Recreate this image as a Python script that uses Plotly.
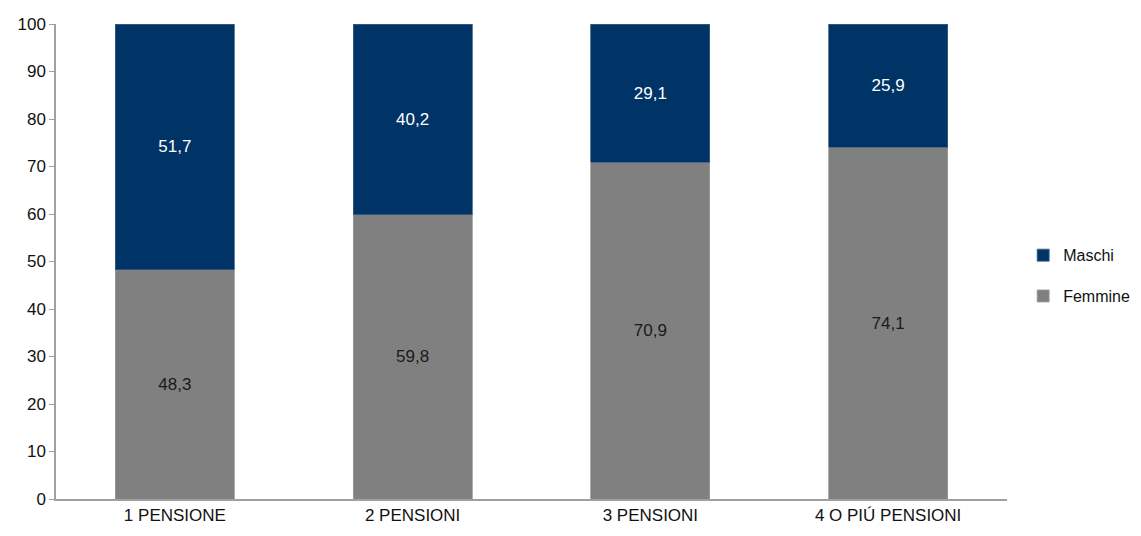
import plotly.graph_objects as go

categories = ["1 PENSIONE", "2 PENSIONI", "3 PENSIONI", "4 O PIÚ PENSIONI"]
femmine = [48.3, 59.8, 70.9, 74.1]
maschi = [51.7, 40.2, 29.1, 25.9]
y_ticks = [0, 10, 20, 30, 40, 50, 60, 70, 80, 90, 100]

FONT = "Liberation Sans Narrow, Arial Narrow, Arial, sans-serif"

def fmt(v):
    return f"{v:.1f}".replace(".", ",")

fig = go.Figure()
fig.add_trace(go.Bar(
    name="Femmine", x=categories, y=femmine, legendgroup="f", legendrank=2,
    marker=dict(color="#808080", line=dict(color="#9a9a9a", width=0.8)),
    text=[fmt(v) for v in femmine], textposition="inside", insidetextanchor="middle",
    textfont=dict(color="#1a1a1a", size=17, family=FONT),
    width=0.5,
))
fig.add_trace(go.Bar(
    name="Maschi", x=categories, y=maschi, legendgroup="m", legendrank=1,
    marker=dict(color="#003366", line=dict(color="#3a5f88", width=0.8)),
    text=[fmt(v) for v in maschi], textposition="inside", insidetextanchor="middle",
    textfont=dict(color="#ffffff", size=17, family=FONT),
    width=0.5,
))

fig.update_layout(
    barmode="stack",
    width=1141, height=536,
    margin=dict(l=56, r=134, t=24, b=37, autoexpand=False),
    paper_bgcolor="white", plot_bgcolor="white",
    font=dict(family=FONT, size=17, color="#111111"),
    showlegend=True,
    legend=dict(
        traceorder="grouped", x=1.017, y=0.47, xanchor="left", yanchor="middle",
        font=dict(size=16, family=FONT), tracegroupgap=17, itemwidth=30,
    ),
)
fig.update_xaxes(
    range=[-0.5, 3.5], showline=True, linecolor="#a0a0a0", linewidth=1.5,
    ticks="", showgrid=False, tickfont=dict(size=17, family=FONT),
)
fig.update_yaxes(
    range=[0, 100], tickvals=y_ticks, showline=True, linecolor="#a0a0a0", linewidth=1.5,
    ticks="outside", ticklen=5, tickcolor="#a0a0a0", showgrid=False, zeroline=False,
    tickfont=dict(size=17, family=FONT),
)

fig.write_html("out.html")
